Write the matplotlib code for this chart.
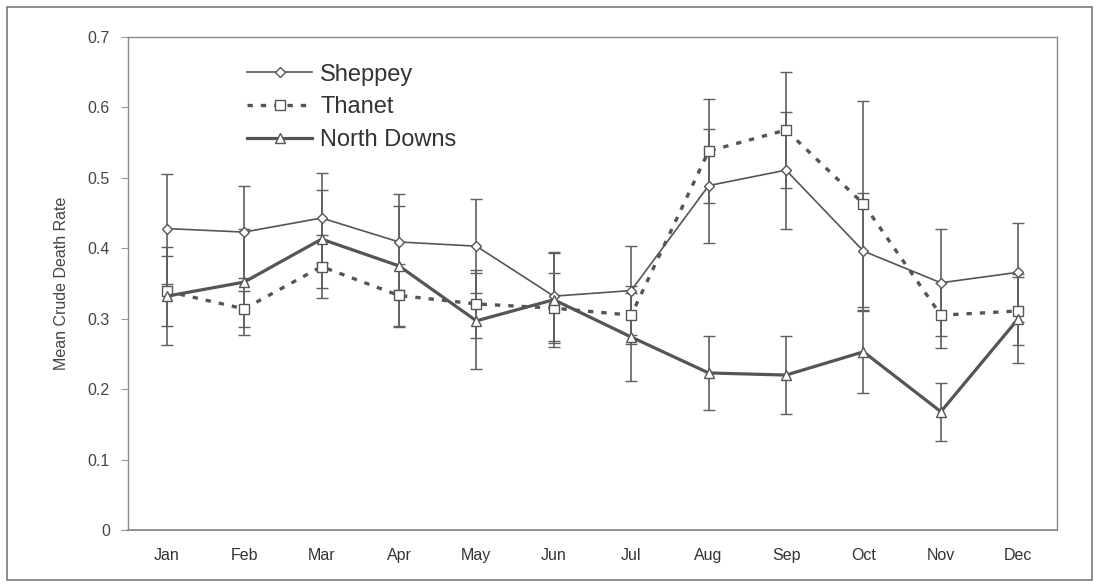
import matplotlib
matplotlib.use("Agg")
import matplotlib.pyplot as plt
from matplotlib.patches import Rectangle
from matplotlib.lines import Line2D
import numpy as np

plt.rcParams['font.family'] = ['Liberation Sans', 'DejaVu Sans']

months = ["Jan", "Feb", "Mar", "Apr", "May", "Jun", "Jul", "Aug", "Sep", "Oct", "Nov", "Dec"]

sheppey = [0.428, 0.423, 0.443, 0.409, 0.403, 0.332, 0.340, 0.489, 0.511, 0.396, 0.351, 0.366]
sheppey_err = [0.078, 0.065, 0.064, 0.068, 0.067, 0.063, 0.063, 0.081, 0.083, 0.083, 0.076, 0.070]

thanet = [0.339, 0.314, 0.374, 0.333, 0.321, 0.315, 0.305, 0.538, 0.568, 0.463, 0.305, 0.311]
thanet_err = [0.050, 0.026, 0.045, 0.045, 0.048, 0.050, 0.041, 0.074, 0.082, 0.146, 0.046, 0.048]

north_downs = [0.332, 0.352, 0.413, 0.375, 0.297, 0.327, 0.274, 0.223, 0.220, 0.253, 0.168, 0.300]
north_downs_err = [0.070, 0.075, 0.070, 0.085, 0.068, 0.067, 0.062, 0.052, 0.055, 0.058, 0.041, 0.063]

yticks = [0, 0.1, 0.2, 0.3, 0.4, 0.5, 0.6, 0.7]
ytick_labels = ["0", "0.1", "0.2", "0.3", "0.4", "0.5", "0.6", "0.7"]

W, H = 1094, 585
fig = plt.figure(figsize=(W / 100, H / 100), dpi=100)
fig.patch.set_facecolor("white")
fig.patches.append(Rectangle((7 / W, 5 / H), (1092 - 7) / W, (580 - 7) / H,
                             transform=fig.transFigure, fill=False,
                             edgecolor="#7a7a7a", linewidth=1.2))

ax = fig.add_axes([128 / W, (H - 530) / H, (1057 - 128) / W, (530 - 37) / H])
x = np.arange(len(months))

line_col = "#555555"
err_col = "#606060"

styles = [
    dict(label="Sheppey", y=sheppey, e=sheppey_err, lw=1.2, ls="-", marker="D", ms=5),
    dict(label="Thanet", y=thanet, e=thanet_err, lw=2.4, ls=(0, (1.6, 2.4)), marker="s", ms=6.5),
    dict(label="North Downs", y=north_downs, e=north_downs_err, lw=2.3, ls="-", marker="^", ms=7),
]

handles = []
for st in styles:
    ax.errorbar(x, st["y"], yerr=st["e"], color=line_col, lw=st["lw"], linestyle=st["ls"],
                marker=st["marker"], markersize=st["ms"], markerfacecolor="white",
                markeredgecolor=line_col, markeredgewidth=1.0, ecolor=err_col,
                elinewidth=1.2, capsize=4.5, capthick=1.2, zorder=3)
    handles.append(Line2D([], [], color=line_col, lw=st["lw"], linestyle=st["ls"],
                          marker=st["marker"], markersize=st["ms"], markerfacecolor="white",
                          markeredgecolor=line_col, markeredgewidth=1.0, label=st["label"]))

ax.set_xlim(-0.5, len(months) - 0.5)
ax.set_ylim(0, 0.7)
ax.set_yticks(yticks)
ax.set_yticklabels(ytick_labels)
ax.set_xticks(x)
ax.set_xticklabels(months)
ax.tick_params(axis="x", length=0, pad=13, labelsize=11.5, labelcolor="#333333")
ax.tick_params(axis="y", length=5, width=0.8, color="#999999", pad=8,
               labelsize=11.5, labelcolor="#444444")
for s in ax.spines.values():
    s.set_color("#8a8a8a")
    s.set_linewidth(1.0)
ax.spines["bottom"].set_linewidth(1.3)
ax.set_ylabel("Mean Crude Death Rate", fontsize=11.5, color="#444444")
ax.yaxis.set_label_coords(-0.064, 0.5)

leg = ax.legend(handles=handles, loc="upper left", bbox_to_anchor=(0.118, 0.965), frameon=False,
                fontsize=17, handlelength=2.75, handletextpad=0.35, labelspacing=0.45,
                borderaxespad=0)
for t in leg.get_texts():
    t.set_color("#333333")

fig.savefig("out.png", dpi=100, facecolor="white")
